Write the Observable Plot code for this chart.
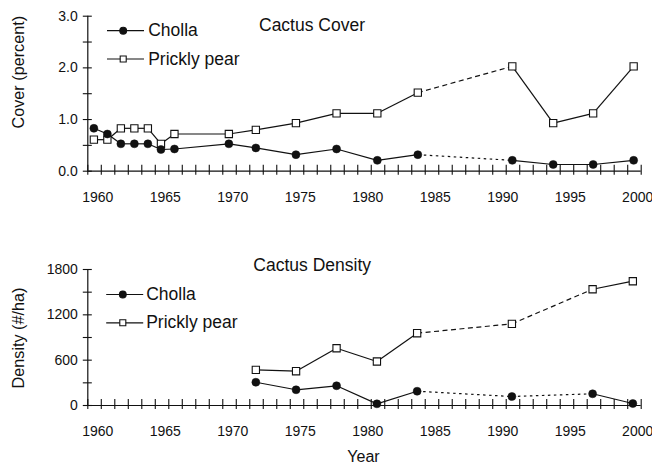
<!DOCTYPE html>
<html>
<head>
<meta charset="utf-8">
<script src="https://cdn.jsdelivr.net/npm/d3@7"></script>
<script src="https://cdn.jsdelivr.net/npm/@observablehq/plot@0.6"></script>
<style>
  html, body { margin: 0; padding: 0; background: #fff; }
  #chart { width: 652px; }
  #chart svg { display: block; }
</style>
</head>
<body>
<div id="chart"></div>
<script>
// ---- data ----
const coverYears = [1959.45, 1960.45, 1961.45, 1962.45, 1963.45, 1964.42, 1965.42, 1969.45, 1971.45, 1974.42, 1977.43, 1980.45, 1983.45, 1990.45, 1993.48, 1996.44, 1999.44];
const chollaCover = [0.83, 0.72, 0.53, 0.53, 0.53, 0.42, 0.43, 0.53, 0.45, 0.32, 0.43, 0.21, 0.32, 0.21, 0.13, 0.13, 0.21];
const pricklyCover = [0.61, 0.61, 0.83, 0.83, 0.83, 0.53, 0.72, 0.72, 0.80, 0.93, 1.12, 1.12, 1.52, 2.03, 0.93, 1.12, 2.03];
const coverDashedFrom = [1983.45];

const densityYears = [1971.45, 1974.43, 1977.43, 1980.42, 1983.4, 1990.42, 1996.4, 1999.38];
const chollaDensity = [308, 208, 261, 22, 189, 119, 155, 26];
const pricklyDensity = [472, 454, 758, 582, 957, 1081, 1539, 1645];
const densityDashedFrom = [1983.4, 1990.42];

const seriesNames = ["Cholla", "Prickly pear"];
const yearTicks = [1960, 1965, 1970, 1975, 1980, 1985, 1990, 1995, 2000];
const yearMinorTicks = d3.range(1959, 2001);
const coverLabelTicks = [0, 1, 2, 3];
const coverMinorTicks = [0, 0.5, 1, 1.5, 2, 2.5, 3];
const densityLabelTicks = [0, 600, 1200, 1800];
const densityMinorTicks = [0, 300, 600, 900, 1200, 1500, 1800];

// ---- helpers ----
const FONT = "Liberation Sans, Arial, Helvetica, sans-serif";
const INK = "#111";

function points(years, values, series) {
  return years.map((year, i) => ({year, value: values[i], series}));
}
function links(years, values, series, dashedFrom) {
  const out = [];
  for (let i = 0; i < years.length - 1; i++) {
    out.push({x1: years[i], y1: values[i], x2: years[i + 1], y2: values[i + 1], series,
      dashed: dashedFrom.includes(years[i])});
  }
  return out;
}
const legendLine = {draw(ctx) { ctx.moveTo(-18.5, 0); ctx.lineTo(18.5, 0); }};

function panel({years, cholla, prickly, dashedFrom, yDomain, labelTicks, minorTicks, yFormat,
                height, marginTop, marginBottom, title, titleDx, titleDy, yLabel, yLabelDy,
                legend, xLabel}) {
  const pts = [...points(years, cholla, seriesNames[0]), ...points(years, prickly, seriesNames[1])];
  const lks = [...links(years, cholla, seriesNames[0], dashedFrom), ...links(years, prickly, seriesNames[1], dashedFrom)];
  const marks = [
    Plot.ruleX([1959], {stroke: INK, strokeWidth: 1.2}),
    Plot.ruleY([yDomain[0]], {stroke: INK, strokeWidth: 1.2}),
    Plot.axisX({ticks: yearMinorTicks, tickSize: 10, dy: -6, tickFormat: () => "", stroke: INK, strokeWidth: 1.1, label: null}),
    Plot.axisY({ticks: minorTicks, tickSize: 9, dx: 4.5, tickFormat: () => "", stroke: INK, strokeWidth: 1.1, label: null}),
    Plot.axisX({ticks: yearTicks, tickSize: 0, tickPadding: 21, dx: -3.5, tickFormat: "d", fontSize: 14, fill: INK, label: null}),
    Plot.axisY({ticks: labelTicks, tickSize: 0, tickPadding: 10, tickFormat: yFormat, fontSize: 14, fill: INK, label: null}),
    Plot.link(lks.filter(d => !d.dashed), {x1: "x1", y1: "y1", x2: "x2", y2: "y2", stroke: INK, strokeWidth: 1.2}),
    Plot.link(lks.filter(d => d.dashed && d.series === "Prickly pear"), {x1: "x1", y1: "y1", x2: "x2", y2: "y2", stroke: INK, strokeWidth: 1.2, strokeDasharray: "5,3.5"}),
    Plot.link(lks.filter(d => d.dashed && d.series === "Cholla"), {x1: "x1", y1: "y1", x2: "x2", y2: "y2", stroke: INK, strokeWidth: 1.2, strokeDasharray: "2.5,3.5"}),
    Plot.dot(pts.filter(d => d.series === "Prickly pear"), {x: "year", y: "value", symbol: "square", r: 4.1, fill: "white", stroke: INK, strokeWidth: 1.1}),
    Plot.dot(pts.filter(d => d.series === "Cholla"), {x: "year", y: "value", symbol: "circle", r: 4, fill: INK, stroke: INK, strokeWidth: 0.5}),
    Plot.text([title], {frameAnchor: "top", dx: titleDx, dy: titleDy, text: d => d, fontSize: 17.5, fill: INK, lineAnchor: "middle"}),
    Plot.text([yLabel], {frameAnchor: "top-left", dx: -69.3, dy: yLabelDy, rotate: -90, text: d => d, fontSize: 16.2, fill: INK, lineAnchor: "middle", textAnchor: "middle"}),
    ...seriesNames.flatMap((name, i) => [
      Plot.dot([name], {frameAnchor: "top-left", dx: legend.lineDx, dy: legend.rows[i], symbol: legendLine, r: 1, stroke: INK, strokeWidth: 1.2, fill: "none"}),
      Plot.dot([name], {frameAnchor: "top-left", dx: legend.markDx, dy: legend.rows[i], symbol: i === 0 ? "circle" : "square",
        r: 3.4, fill: i === 0 ? INK : "white", stroke: INK, strokeWidth: 1.1}),
      Plot.text([name], {frameAnchor: "top-left", dx: legend.textDx, dy: legend.rows[i], text: d => d, fontSize: 17.5, fill: INK, textAnchor: "start", lineAnchor: "middle"})
    ])
  ];
  if (xLabel) {
    marks.push(Plot.text([xLabel], {frameAnchor: "bottom", dx: -1, dy: 51.5, text: d => d, fontSize: 16, fill: INK, lineAnchor: "middle"}));
  }
  return Plot.plot({
    width: 652,
    height,
    marginLeft: 87.3,
    marginRight: 11.3,
    marginTop,
    marginBottom,
    style: {fontFamily: FONT, fontSize: "14px", color: INK, background: "white", overflow: "visible"},
    x: {domain: [1959, 2000], axis: null},
    y: {domain: yDomain, axis: null},
    marks
  });
}

const coverChart = panel({
  years: coverYears, cholla: chollaCover, prickly: pricklyCover, dashedFrom: coverDashedFrom,
  yDomain: [0, 3], labelTicks: coverLabelTicks, minorTicks: coverMinorTicks, yFormat: ".1f",
  height: 232, marginTop: 15.7, marginBottom: 61.3,
  title: "Cactus Cover", titleDx: -52.5, titleDy: 9.3,
  yLabel: "Cover (percent)", yLabelDy: 56,
  legend: {lineDx: 37.7, markDx: 35.4, textDx: 60.4, rows: [14.5, 42.8]}
});
const densityChart = panel({
  years: densityYears, cholla: chollaDensity, prickly: pricklyDensity, dashedFrom: densityDashedFrom,
  yDomain: [0, 1800], labelTicks: densityLabelTicks, minorTicks: densityMinorTicks, yFormat: "d",
  height: 233, marginTop: 37, marginBottom: 60,
  title: "Cactus Density", titleDx: -52.3, titleDy: -4,
  yLabel: "Density (#/ha)", yLabelDy: 68.5,
  legend: {lineDx: 36.9, markDx: 35, textDx: 58.4, rows: [25, 53.3]},
  xLabel: "Year"
});
document.getElementById("chart").append(coverChart, densityChart);
</script>
</body>
</html>
